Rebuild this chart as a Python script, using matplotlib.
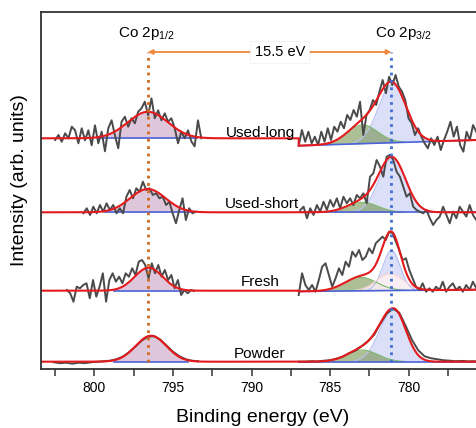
import matplotlib
matplotlib.use('Agg')
import matplotlib.pyplot as plt
import numpy as np
from matplotlib.ticker import MultipleLocator

plt.rcParams['font.family'] = 'Liberation Sans'
plt.rcParams['mathtext.fontset'] = 'custom'
plt.rcParams['mathtext.rm'] = 'Liberation Sans'

# 样品与垂直偏移
samples = ['Powder', 'Fresh', 'Used-short', 'Used-long']
offsets = [0, 71, 149.4, 223.4]

# 峰位 (eV)
pos_12 = 796.6
pos_32 = 781.1

# 原始谱: Co 2p1/2 窗口 (起点, 终点, 强度)
pw_12 = (802.6, 793.4, [-0.5, -1.5, -1, -2, -1, -1.5, -0.5, 0, 0.5, 1, 2.5, 5, 9.5, 15, 21, 25,
                        25.5, 22, 16, 10, 5.5, 2.5, 1, 0.5])
fr_12 = (801.75, 793.65, [0.7, -2.6, -11, 4, 2.4, 5.7, 7.4, -7.6, 10.7, -6, 4, 17.4, -11, 10.7, 17.4,
                          9, 14, 7.4, 17.4, 14, 22.4, 15.7, 29, 30.7, 25.7, 12.4, 27.4, 17.4, 25.7,
                          14, 20.7, 10.7, 15.7, 2.4, 10.7, -4.3, 0.7, -2.6, 0.7, -0.3])
us_12 = (800.7, 793.55, [-1, 4, -2.7, 5.6, -1, 7.3, 0.6, 9, 2.3, 7.3, -1, 4, -1, 15.6, 22.3, 14, 24,
                         20.6, 30.6, 22.3, 24, 17.3, 19, 14, 15.6, 7.3, 10.6, -1, -11, 2.3, 14, -7.7,
                         4, -1, 0.6])
ul_12 = (802.5, 793.2, [-1.7, 3.3, -3.4, 5, 0, 11.6, 8, -5, 10, -2, 8, -7, 13, -5, 6.6, -13, 10, 18,
                        3, -10, 16.6, 21.6, 11.6, 20, 15, 26.6, 30, 36.6, 23, 40, 20, 28, 18, 25,
                        16.6, 20, 10, -5, 6.6, 0, 8, -3, -8, 18, 0])

# 原始谱: Co 2p3/2 窗口
pw_32 = (787.0, 775.8, [0, 0, 0.5, 0.3, 1, 1.5, 3, 5, 8.5, 11, 15.5, 20.5, 27, 38, 48, 53, 49, 36,
                        22, 11.5, 5.5, 3.5, 2.5, 1.5, 1, 0.5, 0.8, 0.3, 0.5])
fr_32 = (787.0, 775.7, [-4.3, 17.4, 5.7, 0.7, 5.7, -1, 10.7, 24, 27.4, 15.7, 4, 12.4, 22.4, 15.7, 29,
                        24, 39, 34, 40.7, 30.7, 34, 42.4, 37.4, 47.4, 50.7, 54, 50.7, 59, 57.4, 49,
                        40.7, 30.7, 32.4, 20.7, 12.4, 4, 0.7, 7.4, -1, 2.4, -1, 4, 0.7, 9, -1, 4,
                        7.4, 0.7, 4, -1, 5.7, 0.7, 9, 2.4])
us_32 = (786.9, 775.7, [2.3, 5.6, -6, 4, -2.7, 7.3, 0.6, 10.6, 2.3, 12.3, 5.6, 14, 4, 15.6, 9, 14,
                        7.3, 17.3, 14, 19, 9, 35.6, 39, 52.3, 45.6, 35.6, 55.6, 57.3, 52.3, 40.6,
                        35.6, 25.6, 15.6, 19, 5.6, 2.3, 0.6, -1, 2.3, -6, -12.7, -7.7, -4.3, 5.6,
                        -2.7, -11, 0.6, -6, 5.6, 0.6, -4.3, 7.3, -2.7, -7.7])
ul_32 = (787.0, 775.7, [-7.4, 8.3, -3.4, 6.6, -5, 1.6, -6.7, 6.6, -3.4, 10, -1.7, 11.6, 6.6, 16.6,
                        10, 23.3, 18.3, 28.3, 21.6, 36.6, 3.3, 23.3, 28.3, 38.3, 33.3, 46.6, 58.3,
                        45, 61.6, 53.3, 63.3, 51.6, 46.6, 38.3, 20, 15, 3.3, 10, 1.6, -5, -10, 0,
                        -6.7, 1.6, -11.7, -1.7, 6.6, 16.6, 1.6, 11.6, -6.7, -13.4, 6.6, -1.7, 13.3,
                        6.6])

raw_12 = [pw_12, fr_12, us_12, ul_12]
raw_32 = [pw_32, fr_32, us_32, ul_32]

# 拟合峰参数: (中心, 高度, 左FWHM, 右FWHM)
fit_12 = [(796.4, 26, 2.3, 2.3), (796.55, 23, 2.1, 2.1),
          (796.6, 23.3, 2.65, 2.65), (796.6, 26.5, 3.0, 3.0)]
# 2p3/2: 主峰, 卫星峰, (额外峰)
fit_32 = [
    [(780.95, 52, 2.1, 1.8), (782.95, 11.7, 2.3, 2.3)],
    [(781.1, 40, 1.3, 1.3), (783.06, 13.5, 2.4, 2.4), (781.2, 17, 2.0, 2.0)],
    [(781.05, 54, 2.0, 2.0), (782.95, 10, 2.3, 2.3)],
    [(781.05, 58, 2.1, 2.1), (782.95, 18.7, 2.3, 2.3)],
]
# 2p3/2 线性背景 (787 eV 处, 775.7 eV 处)
base_32 = [(0, 0), (-0.7, 1.0), (0, 0), (-7.4, -1.7)]

comp_fill = ['#9ba6eb', '#5d802a', '#fdf0f1']
comp_alpha = [0.35, 0.5, 0.9]
comp_edge = ['#b4bff2', '#7cb86a', '#fad2d5']

label_pos = [(787.88, 3.4), (788.24, 4.7), (786.96, 4.0), (787.2, 1.6)]


def gauss(e, c, h, wl, wr):
    w = np.where(e > c, wl, wr) / 2.3548
    return h * np.exp(-(e - c) ** 2 / (2 * w ** 2))


fig = plt.figure(figsize=(4.76, 4.28), dpi=100)
ax = fig.add_axes([41 / 476, 1 - 369 / 428, 462 / 476, 357 / 428])

eL = np.linspace(803.4, 787.0, 700)
eR = np.linspace(787.0, 774.0, 700)

for i, name in enumerate(samples):
    off = offsets[i]
    # 2p1/2
    c12 = gauss(eL, *fit_12[i])
    m = c12 > 0.05 * fit_12[i][1]
    ax.fill_between(eL, off, off + c12, where=m, color='#b175a7', alpha=0.4, lw=0)
    ax.plot(eL[m], np.full(m.sum(), off), color='#4b63d8', lw=1.2)
    envL = off + c12

    # 2p3/2
    b0, b1 = base_32[i]
    bR = off + np.interp(eR, [775.7, 787.0], [b1, b0])
    total = np.zeros_like(eR)
    for k, p in enumerate(fit_32[i]):
        ck = gauss(eR, *p)
        total += ck
        mk = ck > 0.02 * p[1]
        ax.fill_between(eR, bR, bR + ck, where=mk, color=comp_fill[k], alpha=comp_alpha[k], lw=0)
        ax.plot(eR[mk], (bR + ck)[mk], color=comp_edge[k], lw=0.8)
    ax.plot(eR, bR, color='#4b63d8', lw=1.2)
    envR = bR + total

    # 原始数据
    for s, e, v in (raw_12[i], raw_32[i]):
        ax.plot(np.linspace(s, e, len(v)), off + np.array(v), color='#4a4a4a', lw=1.4)

    # 拟合包络
    ax.plot(np.concatenate([eL, eR]), np.concatenate([envL, envR]), color='#e41a1c', lw=1.5)

    lx, ly = label_pos[i]
    ax.text(lx, off + ly, name, ha='right', va='baseline', fontsize=11)

# 峰位虚线与能量差
y_arrow = 309.7
ax.plot([pos_12, pos_12], [0, y_arrow], ls=':', color='#d2691e', lw=2)
ax.plot([pos_32, pos_32], [0, y_arrow], ls=':', color='#3f6fd0', lw=2)
ax.annotate('', xy=(pos_32, y_arrow), xytext=(pos_12, y_arrow),
            arrowprops=dict(arrowstyle='<|-|>', color='#f0883c', lw=1.3,
                            mutation_scale=7, shrinkA=0, shrinkB=0))
ax.text(788.2, y_arrow, '%.1f eV' % (pos_12 - pos_32), ha='center', va='center', fontsize=10.5,
        bbox=dict(boxstyle='square,pad=0.3', fc='white', ec='#eeeeee', lw=0.5))

ax.text(pos_12 + 0.1, 328.7, r'Co 2p$_{\mathrm{1/2}}$', ha='center', va='center', fontsize=11)
ax.text(pos_32 - 0.8, 328.7, r'Co 2p$_{\mathrm{3/2}}$', ha='center', va='center', fontsize=11)

ax.set_xlim(803.4, 774.0)
ax.set_ylim(-7.3, 349.7)
ax.set_xticks([800, 795, 790, 785, 780])
ax.xaxis.set_minor_locator(MultipleLocator(2.5))
ax.tick_params(axis='x', which='both', direction='out', length=5, width=1.1,
               labelsize=10, color='#333333')
ax.set_yticks([])
for sp in ax.spines.values():
    sp.set_linewidth(1.3)
    sp.set_color('#333333')

fig.text(263 / 476, 1 - 417 / 428, 'Binding energy (eV)', ha='center', va='center', fontsize=14)
fig.text(20 / 476, 1 - 180 / 428, 'Intensity (arb. units)', ha='center', va='center',
         rotation=90, fontsize=14)

fig.savefig('out.png', dpi=100)
